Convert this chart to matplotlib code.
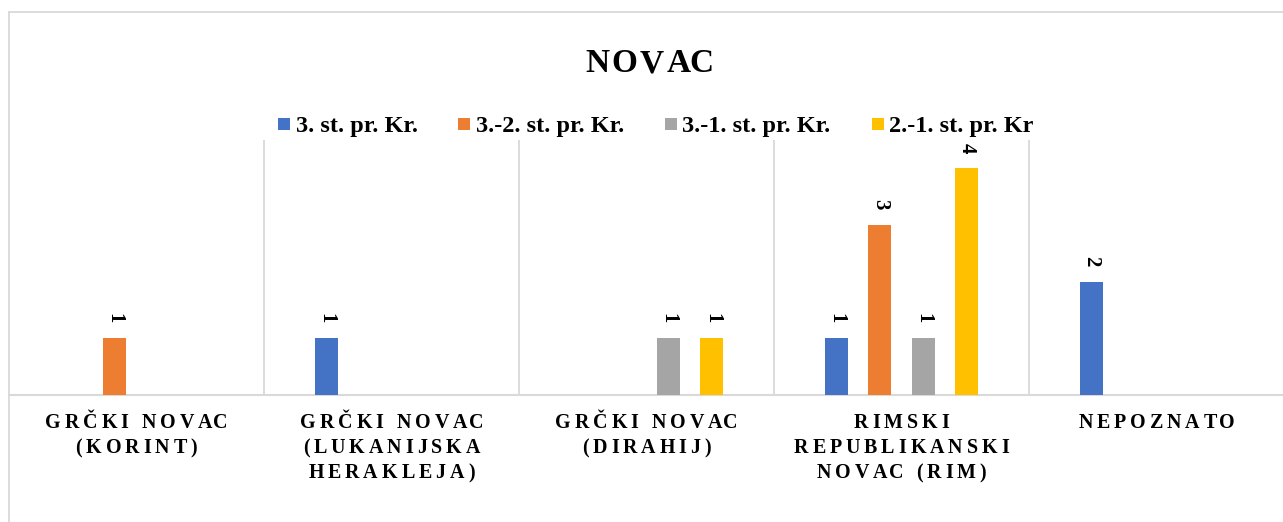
"""
Grouped bar chart: NOVAC (coins by origin and century)
"""

import matplotlib
matplotlib.use('Agg')
import matplotlib.pyplot as plt
import numpy as np
from matplotlib.font_manager import FontProperties
from matplotlib.lines import Line2D

# Data
categories = [
    'GRČKI NOVAC\n(KORINT)',
    'GRČKI NOVAC\n(LUKANIJSKA\nHERAKLEJA)',
    'GRČKI NOVAC\n(DIRAHIJ)',
    'RIMSKI\nREPUBLIKANSKI\nNOVAC (RIM)',
    'NEPOZNATO',
]
series_names = ['3. st. pr. Kr.', '3.-2. st. pr. Kr.', '3.-1. st. pr. Kr.', '2.-1. st. pr. Kr']
st3 = [0, 1, 0, 1, 2]
st3_2 = [1, 0, 0, 3, 0]
st3_1 = [0, 0, 1, 1, 0]
st2_1 = [0, 0, 1, 4, 0]
series_values = [st3, st3_2, st3_1, st2_1]
colors = ['#4472C4', '#ED7D31', '#A5A5A5', '#FFC000']

W, H = 1283, 522
SERIF = 'Liberation Serif'
GRID = '#d9d9d9'

fig = plt.figure(figsize=(W / 100, H / 100), dpi=100)
renderer = fig.canvas.get_renderer()

# chart frame (left and top edges visible)
fig.add_artist(Line2D([9 / W, 9 / W], [0, 1 - 12 / H], color=GRID, lw=1.3, transform=fig.transFigure))
fig.add_artist(Line2D([9 / W, 1], [1 - 12 / H, 1 - 12 / H], color=GRID, lw=1.3, transform=fig.transFigure))

ax = fig.add_axes([9 / W, (H - 395) / H, 1275 / W, 255 / H])
ax.set_xlim(-0.5, len(categories) - 0.5)
ax.set_ylim(0, 4.5)

x = np.arange(len(categories))
step = 0.171
width = 0.09
for k, (name, vals, col) in enumerate(zip(series_names, series_values, colors)):
    pos = x + (k - 1.5) * step
    ax.bar(pos, vals, width, color=col, label=name, zorder=3)
    for p, v in zip(pos, vals):
        if v:
            ax.annotate(str(v), (p, v), xytext=(0, 11), textcoords='offset points',
                        rotation=270, ha='center', va='bottom',
                        fontsize=15, fontweight='bold', family=SERIF)

# grid: vertical separators between categories, grey baseline
for s in ['top', 'right', 'left']:
    ax.spines[s].set_visible(False)
ax.spines['bottom'].set_color(GRID)
ax.spines['bottom'].set_linewidth(1.5)
ax.set_xticks(np.arange(0.5, len(categories) - 0.5, 1.0))
ax.set_xticklabels([])
ax.set_yticks([])
ax.tick_params(length=0)
ax.grid(True, axis='x', color=GRID, lw=1.3, zorder=0)


def spaced_text(xc, y_base, s, size, spacing):
    """Centered text with extra letter spacing; xc, y_base in pixels (y from top)."""
    prop = FontProperties(family=SERIF, weight='bold', size=size)

    def adv(t):
        w1 = renderer.get_text_width_height_descent('|' + t + '|', prop, ismath=False)[0]
        w0 = renderer.get_text_width_height_descent('||', prop, ismath=False)[0]
        return w1 - w0

    total = adv(s) + spacing * (len(s) - 1)
    x0 = xc - total / 2
    for i, c in enumerate(s):
        xi = x0 + adv(s[:i]) + spacing * i
        fig.text(xi / W, 1 - y_base / H, c, fontproperties=prop, ha='left', va='baseline')


# category labels
for i, lab in enumerate(categories):
    xc = ax.transData.transform((i, 0))[0]
    for j, line in enumerate(lab.split('\n')):
        spaced_text(xc, 428 + 25 * j, line, 14.4, 3.9)

# title
spaced_text(649, 72.5, 'NOVAC', 24, 2.5)

# legend
handles = [Line2D([], [], marker='s', linestyle='none', markersize=8, color=c,
                  markeredgewidth=0) for c in colors]
fig.legend(handles, series_names, loc='center', bbox_to_anchor=(656 / W, 1 - 126 / H),
           ncol=4, frameon=False, handlelength=0.45, handletextpad=0.25,
           columnspacing=1.7, borderaxespad=0,
           prop=FontProperties(family=SERIF, weight='bold', size=17.5))

fig.savefig('out.png', dpi=100)
